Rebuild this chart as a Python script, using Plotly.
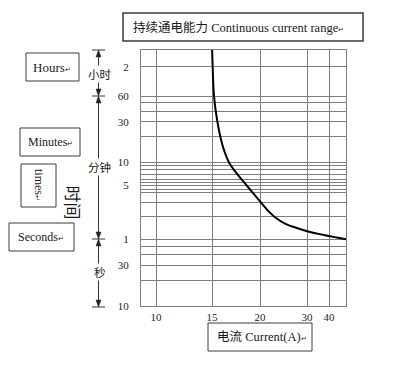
import numpy as np
import plotly.graph_objects as go

# ---------------- data ----------------
# time-current curve (current in A, time in seconds)
CURRENT_A = [15.0, 15.07, 15.21, 15.52, 15.91, 16.25, 16.77, 17.57, 18.44, 19.30,
             20.32, 21.70, 23.19, 25.32, 28.15, 31.36, 38.18, 43.49, 47.7]
TIME_S = [12000, 7200, 3600, 1918, 1147, 836, 600, 431, 319.5, 236.6,
          176.8, 141.2, 116.2, 96, 82.7, 74.7, 67.6, 63.1, 60]

# x ticks (A)
X_TICKS = [10, 15, 20, 30, 40]
X_TICK_LABELS = ["10", "15", "20", "30", "40"]

# y grid (seconds) and labelled ticks
Y_GRID_S = [10, 20, 30, 40, 50, 60,
            120, 180, 240, 270, 300, 330, 360, 420, 480, 540, 600,
            1200, 1800, 2400, 3000, 3600, 7200]
Y_LABEL_S = [10, 30, 60, 300, 600, 1800, 3600, 7200]
Y_LABEL_TEXT = ["10", "30", "1", "5", "10", "30", "60", "2"]

# hand-drawn (non-uniform) scales of the original chart: value -> axis position
X_SCALE_A = [10, 15, 20, 30, 40, 48]
X_SCALE_POS = [15, 71, 119, 166, 188, 205.6]
Y_SCALE_S = [10, 60, 600, 3600, 7200, 14400]
Y_SCALE_POS = [0, 66.7, 143.4, 209.7, 239, 268.2]
X_RANGE = [0, 205]
Y_RANGE = [0, 255.7]


def xpos(a):
    return np.interp(a, X_SCALE_A, X_SCALE_POS)


def ypos(s):
    return np.interp(np.log10(s), np.log10(Y_SCALE_S), Y_SCALE_POS)


# ---------------- layout geometry (window pixels; page body has 8px margin) ----------------
OFF = 8
W, H = 384, 352
PL, PR, PT, PB = 141, 346, 50, 306          # plot area in window pixels
ML, MT = PL - OFF, PT - OFF
MR, MB = W - (PR - OFF), H - (PB - OFF)
PW, PH = PR - PL, PB - PT


def px(xp):
    return (xp - PL) / PW


def py(yp):
    return (PB - yp) / PH


SERIF = "Liberation Serif, Noto Sans CJK SC, serif"
CJK = "Noto Sans CJK SC, sans-serif"
RET = '<span style="font-size:7px">↵</span>'
GRID = "#7e7e7e"
BOX = "#3a3a3a"

fig = go.Figure()
fig.add_trace(go.Scatter(
    x=xpos(CURRENT_A), y=ypos(TIME_S), mode="lines",
    line=dict(color="black", width=2, shape="spline", smoothing=1.2),
    hoverinfo="skip", showlegend=False))

y_ticktext = []
for s in Y_GRID_S:
    y_ticktext.append(Y_LABEL_TEXT[Y_LABEL_S.index(s)] if s in Y_LABEL_S else "")

fig.update_xaxes(range=X_RANGE, tickmode="array", tickvals=xpos(X_TICKS),
                 ticktext=X_TICK_LABELS, showgrid=True, gridcolor=GRID, gridwidth=1,
                 zeroline=False, showline=True, linecolor=GRID, linewidth=1, mirror=True,
                 ticks="", ticklabelstandoff=1,
                 tickfont=dict(family=SERIF, size=11, color="#222"))
fig.update_yaxes(range=Y_RANGE, tickmode="array", tickvals=ypos(Y_GRID_S),
                 ticktext=y_ticktext, showgrid=True, gridcolor=GRID, gridwidth=1,
                 zeroline=False, showline=True, linecolor=GRID, linewidth=1, mirror=True,
                 ticks="", ticklabelstandoff=9,
                 tickfont=dict(family=SERIF, size=11, color="#222"))

shapes = []
annos = []


def box(x0, y0, x1, y1, w=1):
    shapes.append(dict(type="rect", xref="paper", yref="paper",
                       x0=px(x0), x1=px(x1), y0=py(y1), y1=py(y0),
                       line=dict(color=BOX, width=w), fillcolor="white", layer="above"))


def text(x, y, t, size=12, xanchor="left", angle=0, family=SERIF, bg=None):
    annos.append(dict(x=px(x), y=py(y), xref="paper", yref="paper", text=t,
                      showarrow=False, xanchor=xanchor, yanchor="middle",
                      textangle=angle, font=dict(family=family, size=size, color="#1a1a1a"),
                      bgcolor=bg, borderpad=0))


# title box
box(123, 13, 363, 41, w=1.5)
text(132, 27, "持续通电能力 Continuous current range" + RET, size=12.5)
# unit boxes
box(26, 53, 79, 81)
text(52, 67, "Hours" + RET, size=13, xanchor="center")
box(20, 128, 80, 156)
text(50, 142, "Minutes" + RET, size=12, xanchor="center")
box(21, 164, 56, 207)
text(39, 185, "times" + RET, size=12, xanchor="center", angle=90)
box(9, 223, 74, 251)
text(41, 237, "Seconds" + RET, size=12, xanchor="center")
box(208, 323, 312, 351)
text(216, 337, "电流 Current(A)" + RET, size=12.5)
# vertical "时间"
text(73.5, 202, "时间", size=17, xanchor="center", angle=90, family=CJK)

# left range arrows
AX = 98.5
marks = [50, 96, 239, 307]
for a, b in zip(marks[:-1], marks[1:]):
    shapes.append(dict(type="line", xref="paper", yref="paper",
                       x0=px(AX), x1=px(AX), y0=py(a + 5), y1=py(b - 5),
                       line=dict(color="#333", width=1)))
    for tip, d in ((a, 1), (b, -1)):
        shapes.append(dict(type="path", xref="paper", yref="paper",
                           path="M {} {} L {} {} L {} {} Z".format(
                               px(AX), py(tip), px(AX - 2.5), py(tip + 7 * d),
                               px(AX + 2.5), py(tip + 7 * d)),
                           fillcolor="#222", line=dict(color="#222", width=0.5)))
for m in marks:
    shapes.append(dict(type="line", xref="paper", yref="paper",
                       x0=px(92), x1=px(105), y0=py(m), y1=py(m),
                       line=dict(color="#333", width=1)))
text(AX + 1, 73.5, "小时", size=11.5, xanchor="center", family=CJK, bg="white")
text(AX + 1, 167, "分钟", size=11.5, xanchor="center", family=CJK, bg="white")
text(AX + 1, 272, "秒", size=11.5, xanchor="center", family=CJK, bg="white")

fig.update_layout(width=W, height=H, margin=dict(l=ML, r=MR, t=MT, b=MB),
                  paper_bgcolor="white", plot_bgcolor="white",
                  shapes=shapes, annotations=annos, showlegend=False)
fig.write_html("out.html")
